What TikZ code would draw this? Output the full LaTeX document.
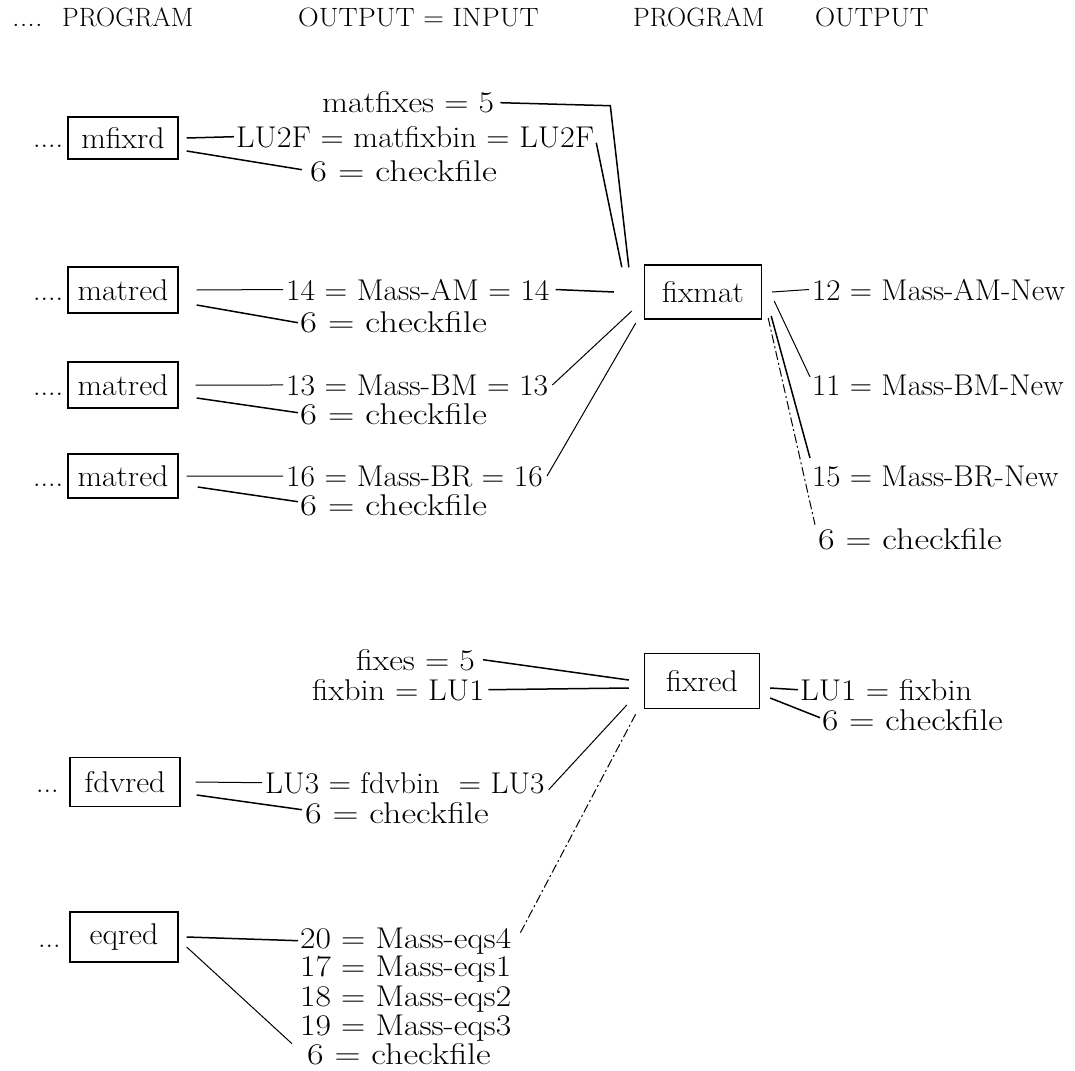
\documentclass[tikz,border=0pt]{standalone}
\usetikzlibrary{calc}
\newcommand\hsc[2]{\scalebox{#1}[1]{#2}}
\begin{document}
\begin{tikzpicture}[x=1pt,y=-1pt,
  lbl/.style={font=\fontsize{30}{35}\selectfont, inner sep=0pt, anchor=base west},
  hdr/.style={font=\fontsize{26.5}{31}\selectfont, inner sep=0pt, anchor=base west},
  prog/.style={draw, line width=1.4pt, font=\fontsize{30}{35}\selectfont, minimum width=110pt, minimum height=46pt, inner sep=0pt},
  conn/.style={line width=1.5pt},
  thinconn/.style={line width=1pt},
  dashconn/.style={line width=1pt, dash pattern=on 9pt off 3pt on 2pt off 3pt},
]
\useasboundingbox (0,0) rectangle (1075,1070);

% header
\node[hdr] (h0) at (12,27) {\hsc{1.15}{....}};
\node[hdr] (h1) at (62,27) {\hsc{1.0}{PROGRAM}};
\node[hdr] (h2) at (298,27) {\hsc{1.08}{OUTPUT = INPUT}};
\node[hdr] (h3) at (633,27) {\hsc{1.0}{PROGRAM}};
\node[hdr] (h4) at (815,27) {\hsc{1.05}{OUTPUT}};

% ---------- top group ----------
\node[lbl] (dmf) at (33,147) {....};
\node[prog, minimum height=42pt] (mf) at (123,138) {\hsc{1.06}{mfixrd}};
\node[lbl] (lmfx) at (322,113) {\hsc{1.12}{matfixes = 5}};
\node[lbl] (llu) at (236,147) {\hsc{1.07}{LU2F = matfixbin = LU2F}};
\node[lbl] (c0) at (310,181) {\hsc{1.22}{6 = checkfile}};

\node[prog, minimum width=117pt, minimum height=54pt] (fixmat) at (703,292) {\hsc{1.06}{fixmat}};

\node[lbl] (dm1) at (33,300) {....};
\node[prog] (m1) at (123,290) {\hsc{1.06}{matred}};
\node[lbl] (l14) at (286,300) {\hsc{1.05}{14 = Mass-AM = 14}};
\node[lbl] (c1) at (300,332) {\hsc{1.22}{6 = checkfile}};

\node[lbl] (dm2) at (33,395) {....};
\node[prog] (m2) at (123,385) {\hsc{1.06}{matred}};
\node[lbl] (l13) at (286,395) {\hsc{1.05}{13 = Mass-BM = 13}};
\node[lbl] (c2) at (300,424) {\hsc{1.22}{6 = checkfile}};

\node[lbl] (dm3) at (33,486) {....};
\node[prog, minimum height=44pt] (m3) at (123,476) {\hsc{1.06}{matred}};
\node[lbl] (l16) at (286,486) {\hsc{1.05}{16 = Mass-BR = 16}};
\node[lbl] (c3) at (300,515) {\hsc{1.22}{6 = checkfile}};

\node[lbl] (r12) at (812,300) {\hsc{1.03}{12 = Mass-AM-New}};
\node[lbl] (r11) at (812,395) {\hsc{1.03}{11 = Mass-BM-New}};
\node[lbl] (r15) at (812,486) {\hsc{1.03}{15 = Mass-BR-New}};
\node[lbl] (r6) at (818,549) {\hsc{1.2}{6 = checkfile}};

% top connectors
\draw[conn] ([xshift=8]mf.east) -- ([xshift=-2]llu.west);
\draw[conn] ([shift={(8,13)}]mf.east) -- ([shift={(-8,-1)}]c0.west);
\draw[conn] ([xshift=6]lmfx.east) -- ++(110,3) -- ([shift={(-15,3)}]fixmat.north west);
\draw[conn] ([shift={(2,6)}]llu.east) -- ([shift={(-22,3)}]fixmat.north west);

\draw[thinconn] ([xshift=18]m1.east) -- ([xshift=-3]l14.west);
\draw[conn] ([shift={(18,15)}]m1.east) -- ([shift={(-2,1)}]c1.west);
\draw[conn] ([xshift=6]l14.east) -- ([xshift=-30]fixmat.west);

\draw[thinconn] ([xshift=17]m2.east) -- ([xshift=-3]l13.west);
\draw[conn] ([shift={(18,13)}]m2.east) -- ([shift={(-2,-1)}]c2.west);
\draw[thinconn] ([xshift=4]l13.east) -- ([shift={(-12,19)}]fixmat.west);

\draw[thinconn] ([xshift=8]m3.east) -- ([xshift=-3]l16.west);
\draw[conn] ([shift={(19,11)}]m3.east) -- ([shift={(-2,-3)}]c3.west);
\draw[thinconn] ([xshift=4]l16.east) -- ([shift={(-8,31)}]fixmat.west);

\draw[thinconn] ([xshift=10]fixmat.east) -- ([xshift=-3]r12.west);
\draw[thinconn] ([shift={(12,9)}]fixmat.east) -- ([shift={(-2,-8)}]r11.west);
\draw[conn] ([shift={(9,24)}]fixmat.east) -- ([shift={(-2,-18)}]r15.west);
\draw[dashconn] ([shift={(6,26)}]fixmat.east) -- ([shift={(-3,-14)}]r6.west);

% ---------- bottom group ----------
\node[prog, minimum width=115pt, minimum height=55pt] (fixred) at (702,681) {\hsc{1.06}{fixred}};
\node[lbl] (lfx) at (356,670) {\hsc{1.12}{fixes = 5}};
\node[lbl] (lfb) at (312,700) {\hsc{1.08}{fixbin = LU1}};
\node[lbl] (rlu) at (800,700) {\hsc{1.08}{LU1 = fixbin}};
\node[lbl] (rc) at (822,730) {\hsc{1.18}{6 = checkfile}};

\node[lbl] (dfd) at (36,792) {...};
\node[prog, minimum height=49pt] (fd) at (125,782) {\hsc{1.06}{fdvred}};
\node[lbl] (llu3) at (265,793) {\hsc{1.04}{LU3 = fdvbin\ \ = LU3}};
\node[lbl] (c5) at (305,823) {\hsc{1.2}{6 = checkfile}};

\node[lbl] (deq) at (38,947) {...};
\node[prog, minimum width=108pt, minimum height=50pt] (eq) at (124,937) {\hsc{1.06}{eqred}};
\node[lbl] (l20) at (300,948) {\hsc{1.12}{20 = Mass-eqs4}};
\node[lbl] (l17) at (300,976) {\hsc{1.12}{17 = Mass-eqs1}};
\node[lbl] (l18) at (300,1006) {\hsc{1.12}{18 = Mass-eqs2}};
\node[lbl] (l19) at (300,1035) {\hsc{1.12}{19 = Mass-eqs3}};
\node[lbl] (c6) at (307,1064) {\hsc{1.2}{6 = checkfile}};

% bottom connectors
\draw[conn] ([xshift=8]lfx.east) -- ([shift={(-15,-1)}]fixred.west);
\draw[conn] ([xshift=4]lfb.east) -- ([shift={(-15,7)}]fixred.west);
\draw[conn] ([shift={(10,7)}]fixred.east) -- ([xshift=-2]rlu.west);
\draw[conn] ([shift={(10,17)}]fixred.east) -- ([shift={(-2,-2)}]rc.west);

\draw[thinconn] ([xshift=15]fd.east) -- ([xshift=-3]llu3.west);
\draw[conn] ([shift={(16,13)}]fd.east) -- ([shift={(-3,-3)}]c5.west);
\draw[thinconn] ([shift={(4,7)}]llu3.east) -- ([shift={(-17,24)}]fixred.west);

\draw[conn] ([xshift=8]eq.east) -- ([xshift=-2]l20.west);
\draw[thinconn] ([shift={(8,10)}]eq.east) -- ([shift={(-15,-10)}]c6.west);
\draw[dashconn] ([shift={(9,-8)}]l20.east) -- ([shift={(-7,31)}]fixred.west);
\end{tikzpicture}
\end{document}
